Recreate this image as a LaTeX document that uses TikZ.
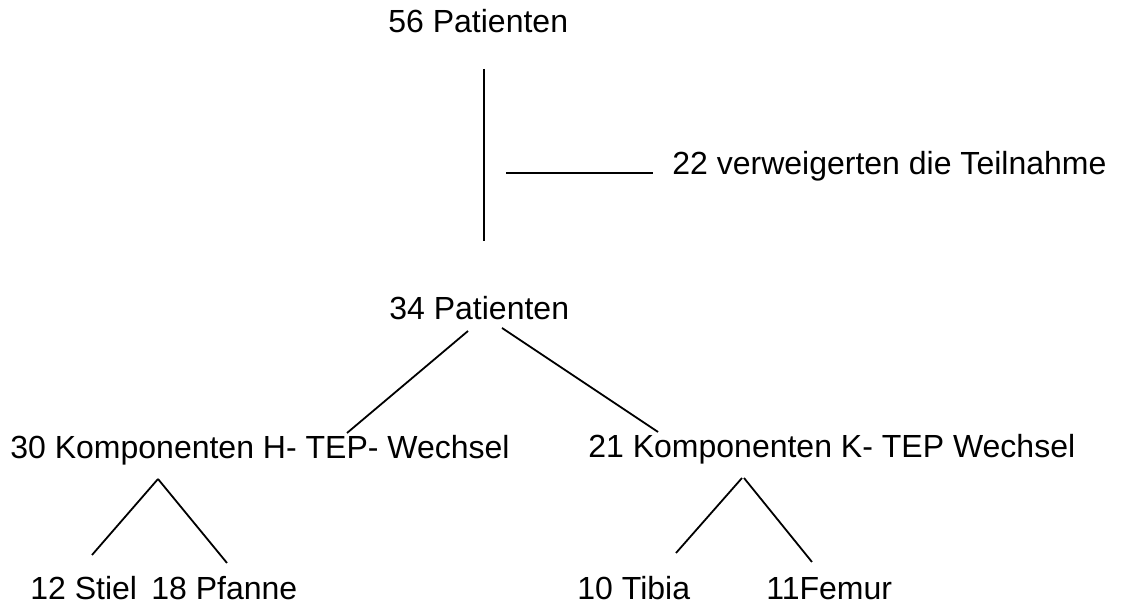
\documentclass[tikz,border=0pt]{standalone}
\usepackage{fontspec}
\setmainfont{Liberation Sans}
\usepackage{tikz}

\begin{document}
\begin{tikzpicture}[x=0.5pt,y=-0.5pt,
	txt/.style={anchor=base west,inner sep=0pt,font=\fontsize{16}{19}\selectfont},
	every edge/.style={draw=black,line width=0.9pt}]
	
	\useasboundingbox (0,0) rectangle (1121,608);
	
	\node[txt] (p56)      at (388, 33)  {56 Patienten};
	\node[txt] (verw)     at (672, 175) {22 verweigerten die Teilnahme};
	\node[txt] (p34)      at (389, 320) {34 Patienten};
	\node[txt] (hwechsel) at (10, 459)  {30 Komponenten H- TEP- Wechsel};
	\node[txt] (kwechsel) at (588, 458) {21 Komponenten K- TEP Wechsel};
	\node[txt] (stiel)    at (30, 600)  {12 Stiel};
	\node[txt] (pfanne)   at (151, 600) {18 Pfanne};
	\node[txt] (tibia)    at (577, 600) {10 Tibia};
	\node[txt] (femur)    at (766, 600) {11Femur};
	
	\coordinate (t1) at (484, 69);
	\coordinate (t2) at (484, 241);
	\coordinate (v1) at (506, 173);
	\coordinate (v2) at (653, 173);
	\coordinate (a1) at (468, 331);
	\coordinate (a2) at (347, 433);
	\coordinate (b1) at (502, 328);
	\coordinate (b2) at (658, 432);
	\coordinate (h0) at (158, 479);
	\coordinate (h1) at (92, 555);
	\coordinate (h2) at (227, 563);
	\coordinate (k0) at (742, 478);
	\coordinate (k3) at (744, 478);
	\coordinate (k1) at (676, 553);
	\coordinate (k2) at (812, 562);
	
	\path[-] (t1) edge (t2);
	\path[-] (v1) edge (v2);
	\path[-] (a1) edge (a2);
	\path[-] (b1) edge (b2);
	\path[-] (h0) edge (h1);
	\path[-] (h0) edge (h2);
	\path[-] (k0) edge (k1);
	\path[-] (k3) edge (k2);
	
\end{tikzpicture}
\end{document}
